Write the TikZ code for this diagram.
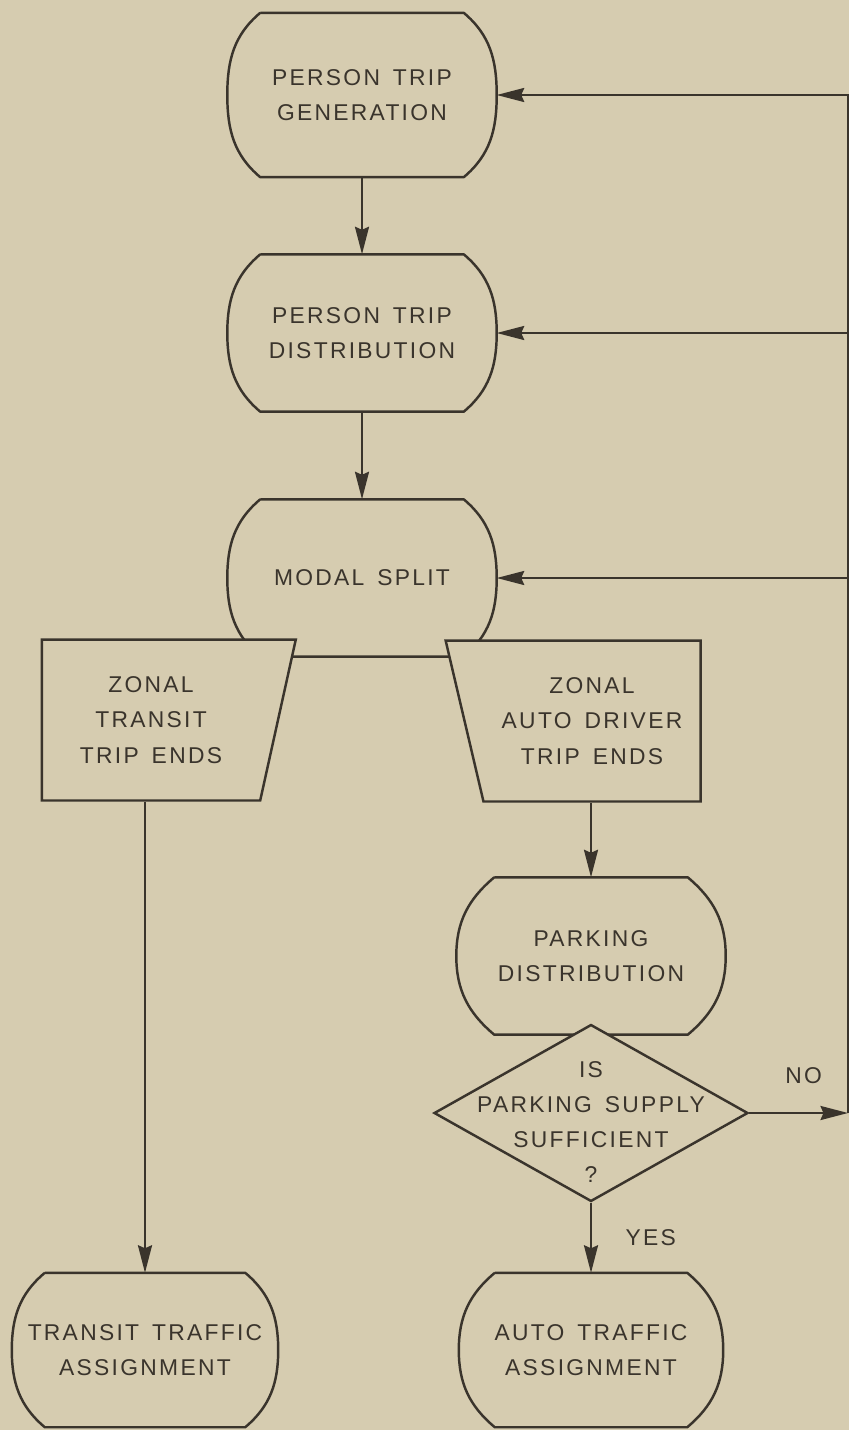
\documentclass[tikz,border=0pt]{standalone}
\usepackage{fontspec}
\setmainfont{Liberation Sans}[LetterSpace=10,WordSpace=1.5]
\usetikzlibrary{shapes.geometric,arrows.meta}
\definecolor{paper}{RGB}{214,204,176}
\definecolor{ink}{RGB}{58,52,44}
\tikzset{
  proc/.style={rectangle,minimum width=5.34cm,minimum height=3.1cm,inner sep=0pt,align=center},
  zone/.style={trapezium,draw,fill=paper,trapezium stretches=true,minimum width=5.1cm,minimum height=3.22cm,inner sep=0pt,align=center},
  ask/.style={diamond,draw,fill=paper,minimum width=6.28cm,minimum height=3.54cm,inner sep=0pt},
  arr/.style={-{Stealth[length=5.5mm,width=2.8mm,inset=0.6mm]}},
  lbl/.style={align=center,inner sep=0pt}
}
% flat top and bottom, bulging sides
\newcommand\bulge[2]{%
  \draw[line join=round] ([xshift=#2]#1.north west) -- ([xshift=-#2]#1.north east)
    to[out=-40,in=90] (#1.east) to[out=-90,in=40] ([xshift=-#2]#1.south east)
    -- ([xshift=#2]#1.south west) to[out=140,in=-90] (#1.west)
    to[out=90,in=220] ([xshift=#2]#1.north west);}
\begin{document}
\begin{tikzpicture}[x=0.02cm,y=-0.02cm,line width=1.4pt,color=ink,font=\fontsize{13}{20}\selectfont]
\useasboundingbox (0,0) rectangle (849,1430);
\fill[paper] (0,0) rectangle (849,1430);

\node[proc,minimum height=3.24cm] (gen) at (362,95) {PERSON TRIP\\GENERATION};
\bulge{gen}{0.66cm}
\node[proc] (dist) at (362,333) {PERSON TRIP\\DISTRIBUTION};
\bulge{dist}{0.66cm}
\node[proc] (modal) at (362,578) {MODAL SPLIT};
\bulge{modal}{0.66cm}

\node[zone,trapezium left angle=90,trapezium right angle=105] (ztr) at (151,720) {ZONAL\\TRANSIT\\TRIP ENDS};
\node[zone,trapezium left angle=110,trapezium right angle=90] (zau) at (592,721) {ZONAL\\AUTO DRIVER\\TRIP ENDS};

\node[proc] (park) at (591,956) {PARKING\\DISTRIBUTION};
\bulge{park}{0.76cm}
\node[ask] (q) at (591,1113) {};
\node[lbl] (qtxt) at (591,1122) {IS\\PARKING SUPPLY\\SUFFICIENT\\?};

\node[proc,minimum width=5.28cm,minimum height=3.04cm] (tass) at (145,1350) {TRANSIT TRAFFIC\\ASSIGNMENT};
\bulge{tass}{0.66cm}
\node[proc,minimum width=5.24cm,minimum height=3.04cm] (aass) at (591,1350) {AUTO TRAFFIC\\ASSIGNMENT};
\bulge{aass}{0.72cm}

% main flow
\draw[arr] (gen.south) -- (dist.north);
\draw[arr] (dist.south) -- (modal.north);
\draw[arr] (zau.south -| park.north) -- (park.north);
\draw[arr] (ztr.south -| tass.north) -- (tass.north);
\draw[arr] (q.south) -- (aass.north) node[pos=.5,right=0.55cm] {YES};

% feedback when supply is short
\coordinate (nofoot) at (848,1113);
\draw[arr] (q.east) -- (nofoot) node[pos=.55,above=0.45cm] {NO};
\draw[arr] (nofoot) |- (gen.east);
\draw[arr] (nofoot |- dist.east) -- (dist.east);
\draw[arr] (nofoot |- modal.east) -- (modal.east);
\end{tikzpicture}
\end{document}
